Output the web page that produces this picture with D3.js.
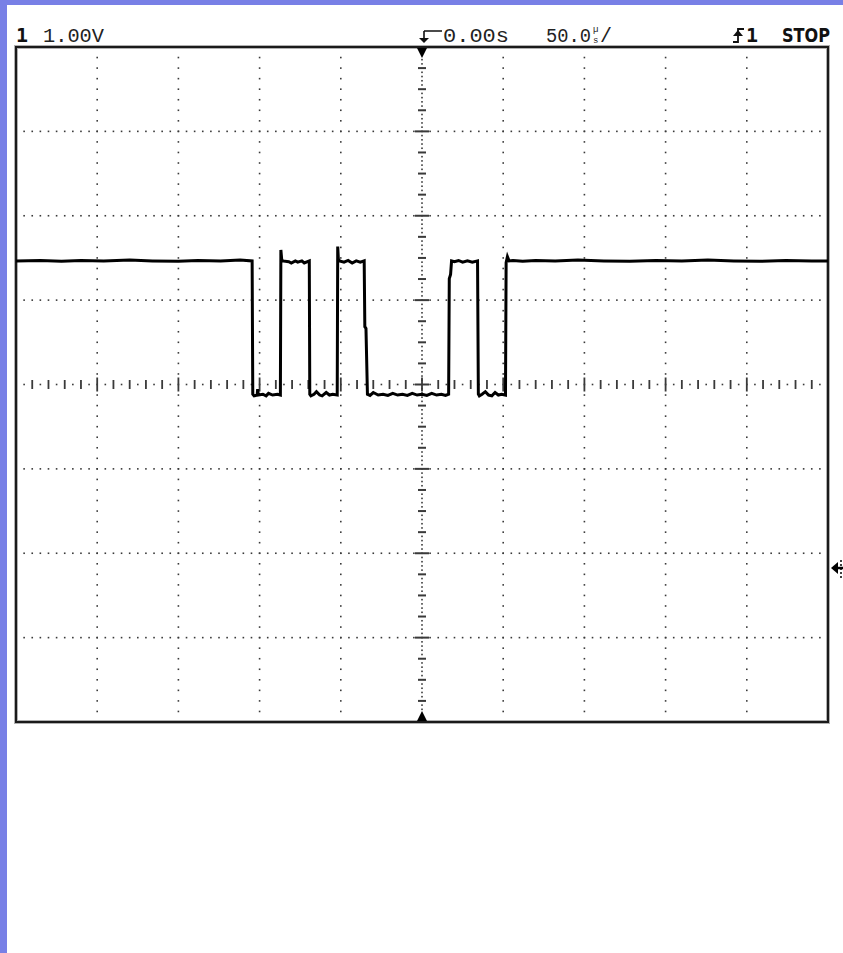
<!DOCTYPE html>
<html><head><meta charset="utf-8">
<script src="https://cdn.jsdelivr.net/npm/d3@7"></script>
<style>html,body{margin:0;padding:0;background:#fff;}svg{display:block;}</style>
</head><body>
<script>
// ---- data ----
const timeDomain = [-250, 250];        // µs, 50 µs/div, 10 div
const voltDomain = [-1.825, 6.175];    // V, 1 V/div, 8 div (ground marker at 0 V)
const timeGrid = [-200, -150, -100, -50, 50, 100, 150, 200];
const voltGrid = [-0.825, 0.175, 1.175, 3.175, 4.175, 5.175];
const centerTime = 0;
const centerVolt = 2.175;
const headerLabels = {ch: "1", scale: "1.00V", delay: "0.00s", timebase: "50.0", trig: "1", state: "STOP"};
// trace samples [time µs, volts]
const tracePoints = [
 [-250,3.64],[-235,3.645],[-222,3.635],[-210,3.645],[-196,3.64],[-180,3.65],[-166,3.64],[-150,3.635],[-138,3.645],[-124,3.64],[-112,3.65],[-104.6,3.64],
 [-104.2,2.06],[-103.4,2.04],[-101.5,2.05],[-101.2,2.12],[-100.8,2.05],[-98,2.06],[-96,2.04],[-94.5,2.07],[-92,2.05],[-89,2.06],[-87.2,2.05],
 [-86.9,3.77],[-86.4,3.66],[-85.8,3.64],[-82,3.63],[-80.5,3.615],[-78,3.64],[-76.5,3.625],[-74,3.64],[-72.5,3.615],[-69.4,3.64],
 [-69.1,2.06],[-68.4,2.04],[-66.5,2.06],[-65,2.09],[-63,2.05],[-61.5,2.04],[-59,2.08],[-57,2.05],[-55,2.06],[-52.2,2.05],
 [-51.9,3.81],[-51.5,3.66],[-50.8,3.64],[-48,3.625],[-45.5,3.645],[-43,3.615],[-40.5,3.64],[-38,3.625],[-35.6,3.64],
 [-35.2,2.86],[-34.5,2.84],[-33.6,2.06],[-32,2.045],[-30,2.08],[-27,2.05],[-24,2.06],[-21,2.045],[-18,2.07],[-15,2.05],[-12,2.06],[-9,2.045],[-6,2.07],[-3,2.05],[0,2.06],[3,2.045],[6,2.07],[9,2.05],[12,2.06],[14.5,2.045],[16.4,2.06],
 [16.8,3.43],[17.6,3.48],[18.2,3.64],[20,3.63],[22.5,3.645],[25,3.625],[28,3.64],[31,3.625],[34.2,3.64],
 [34.7,2.06],[35.3,2.04],[37,2.06],[39,2.09],[41,2.05],[43,2.04],[45,2.08],[47,2.05],[49,2.06],[51.4,2.05],
 [51.8,3.62],[52.6,3.69],[53.6,3.64],[56,3.645],[62,3.635],[70,3.645],[82,3.64],[96,3.65],[112,3.64],[128,3.635],[144,3.645],[160,3.64],[176,3.65],[192,3.64],[208,3.635],[224,3.645],[240,3.64],[250,3.64]
];

// ---- layout ----
const W = 843, H = 953;
const svg = d3.select("body").append("svg").attr("width", W).attr("height", H);
svg.append("rect").attr("width", W).attr("height", H).attr("fill", "#fff");
svg.append("rect").attr("x", 0).attr("y", 0).attr("width", W).attr("height", 5).attr("fill", "#7880E6");
svg.append("rect").attr("x", 0).attr("y", 0).attr("width", 7).attr("height", H).attr("fill", "#7880E6");

const L = 16, R = 828, T = 47, B = 722;
const x = d3.scaleLinear().domain(timeDomain).range([L, R]);
const y = d3.scaleLinear().domain(voltDomain).range([B, T]);

const dotC = "#3a3a3a";
const g = svg.append("g");
function dot(px, py, w, h) {
  g.append("rect").attr("x", px - w / 2).attr("y", py - h / 2).attr("width", w).attr("height", h).attr("fill", dotC);
}
// vertical grid lines: dots every 0.125 V
timeGrid.forEach(t => {
  for (let v = voltDomain[0] + 0.125; v < voltDomain[1] - 0.01; v += 0.125) dot(x(t), y(v), 1.6, 1.6);
});
// horizontal grid lines: dots every 5 µs
voltGrid.forEach(v => {
  for (let t = timeDomain[0] + 5; t < timeDomain[1] - 0.01; t += 5) dot(x(t), y(v), 1.6, 1.6);
});
// center horizontal axis: ticks every 10 µs, dots between
for (let t = timeDomain[0] + 5; t < timeDomain[1] - 0.01; t += 5) {
  const k = Math.round(t / 5);
  if (k % 2 === 0) {
    const big = (k % 10 === 0);
    dot(x(t), y(centerVolt), 1.8, big ? 14 : 9);
  } else dot(x(t), y(centerVolt), 1.6, 1.6);
}
// center vertical axis: dashes every 0.25 V, dots every 0.05 V
for (let i = 1; i < 160; i++) {
  const v = voltDomain[0] + i * 0.05;
  if (i % 5 === 0) {
    const big = (i % 20 === 0);
    dot(x(centerTime), y(v), big ? 14 : 8, 2);
  } else dot(x(centerTime), y(v), 1.6, 1.6);
}

// frame
svg.append("rect").attr("x", L).attr("y", T).attr("width", R - L).attr("height", B - T)
  .attr("fill", "none").attr("stroke", "#b0b0b0").attr("stroke-width", 4);
svg.append("rect").attr("x", L).attr("y", T).attr("width", R - L).attr("height", B - T)
  .attr("fill", "none").attr("stroke", "#1a1a1a").attr("stroke-width", 2);

// trigger markers
const cx = x(centerTime);
svg.append("path").attr("d", `M${cx - 5},${T + 1} L${cx + 5},${T + 1} L${cx},${T + 11} Z`).attr("fill", "#000");
svg.append("path").attr("d", `M${cx - 5},${B - 1} L${cx + 5},${B - 1} L${cx},${B - 11} Z`).attr("fill", "#000");

// trace
const pts = tracePoints.map(d => [x(d[0]), y(d[1])]);
svg.append("path").attr("d", d3.line()(pts)).attr("fill", "none").attr("stroke", "#000")
  .attr("stroke-width", 3).attr("stroke-linejoin", "miter");

// ground marker at right
const gy = y(0);
svg.append("path").attr("d", `M${R + 3},${gy} L${R + 10},${gy - 6} L${R + 10},${gy + 6} Z`).attr("fill", "#000");
svg.append("line").attr("x1", R + 8).attr("x2", W).attr("y1", gy).attr("y2", gy).attr("stroke", "#000").attr("stroke-width", 2.5);
svg.append("line").attr("x1", R + 13).attr("x2", R + 13).attr("y1", gy - 8).attr("y2", gy + 10).attr("stroke", "#000").attr("stroke-width", 1.5).attr("stroke-dasharray", "2,2");

// header
const font = "'Liberation Mono', 'DejaVu Sans Mono', monospace";
const ty = 42;
svg.append("text").attr("x", 16).attr("y", ty).attr("font-family", "'DejaVu Sans Mono', monospace").attr("font-weight", "bold")
  .attr("font-size", 20).attr("fill", "#111").text(headerLabels.ch);
svg.append("text").attr("x", 43).attr("y", ty).attr("font-family", font).attr("font-size", 20).attr("fill", "#222")
  .attr("textLength", 61).attr("lengthAdjust", "spacingAndGlyphs").text(headerLabels.scale);
// delay glyph
svg.append("path").attr("d", `M${cx + 2},${ty - 11} L${cx + 2},${ty - 2} M${cx + 2},${ty - 11} L${cx + 20},${ty - 11}`)
  .attr("stroke", "#111").attr("stroke-width", 1.6).attr("fill", "none");
svg.append("path").attr("d", `M${cx - 3},${ty - 4} L${cx + 7},${ty - 4} L${cx + 2},${ty + 1} Z`).attr("fill", "#111");
svg.append("text").attr("x", 443).attr("y", ty).attr("font-family", font).attr("font-size", 20).attr("fill", "#222")
  .attr("textLength", 66).attr("lengthAdjust", "spacingAndGlyphs").text(headerLabels.delay);
svg.append("text").attr("x", 546).attr("y", ty).attr("font-family", font).attr("font-size", 20).attr("fill", "#222")
  .attr("textLength", 45).attr("lengthAdjust", "spacingAndGlyphs").text(headerLabels.timebase);
svg.append("text").attr("x", 593).attr("y", ty - 10).attr("font-family", font).attr("font-size", 9).attr("fill", "#222").text("µ");
svg.append("text").attr("x", 593).attr("y", ty + 1).attr("font-family", font).attr("font-size", 9).attr("fill", "#222").text("s");
svg.append("text").attr("x", 600).attr("y", ty).attr("font-family", font).attr("font-size", 20).attr("fill", "#222").text("/");
// trigger slope glyph
const sx = 733;
svg.append("path").attr("d", `M${sx},${ty} L${sx + 5},${ty} L${sx + 5},${ty - 13} L${sx + 11},${ty - 13}`)
  .attr("stroke", "#111").attr("stroke-width", 1.8).attr("fill", "none");
svg.append("path").attr("d", `M${sx},${ty - 6} L${sx + 10},${ty - 6} L${sx + 5},${ty - 12} Z`).attr("fill", "#111");
svg.append("text").attr("x", 746).attr("y", ty).attr("font-family", "'DejaVu Sans Mono', monospace").attr("font-weight", "bold")
  .attr("font-size", 20).attr("fill", "#111").text(headerLabels.trig);
svg.append("text").attr("x", 782).attr("y", ty).attr("font-family", "'DejaVu Sans Condensed', 'DejaVu Sans', sans-serif").attr("font-weight", "bold")
  .attr("font-size", 20).attr("fill", "#111").attr("textLength", 48).attr("lengthAdjust", "spacingAndGlyphs").text(headerLabels.state);
</script>
</body></html>
